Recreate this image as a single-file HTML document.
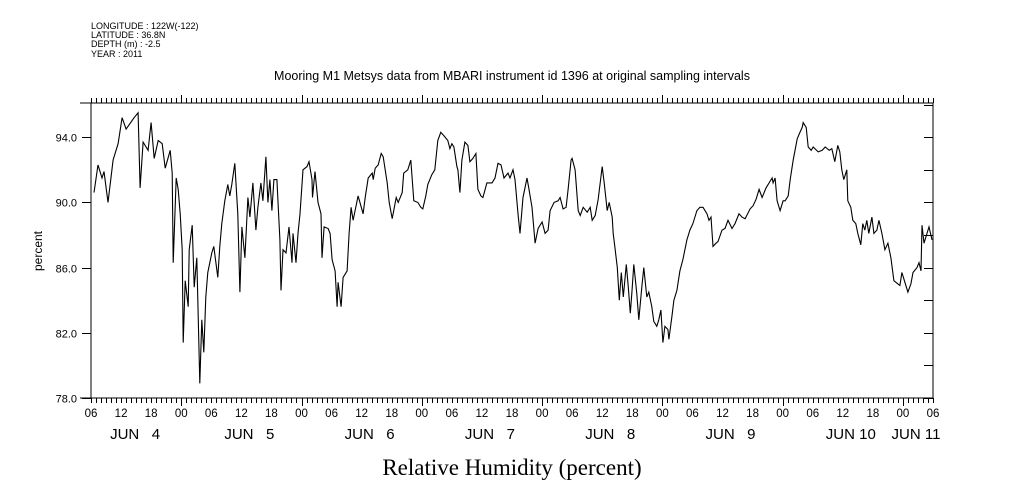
<!DOCTYPE html>
<html><head><meta charset="utf-8"><style>
body{margin:0;background:#fff;}
svg{display:block;font-family:"Liberation Sans",sans-serif;}
text{white-space:pre;}
</style></head><body>
<svg id="chart" width="1009" height="504" viewBox="0 0 1009 504" xmlns="http://www.w3.org/2000/svg">
<g font-size="9" fill="#000">
<text x="91" y="29">LONGITUDE : 122W(-122)</text>
<text x="91" y="38">LATITUDE : 36.8N</text>
<text x="91" y="47">DEPTH (m) : -2.5</text>
<text x="91" y="57">YEAR : 2011</text>
</g>
<text x="512" y="80" font-size="12.5" text-anchor="middle">Mooring M1 Metsys data from MBARI instrument id 1396 at original sampling intervals</text>
<text transform="translate(42,251) rotate(-90)" font-size="12" text-anchor="middle">percent</text>
<text x="512" y="475" font-size="23" text-anchor="middle" font-family="Liberation Serif, serif">Relative Humidity (percent)</text>
<g id="axes"></g>
<path id="series" fill="none" stroke="#000" stroke-width="1.1"/>
</svg>
<script>
const hours=[0.6,1.4,2.2,2.6,3.4,4.4,5.4,6.2,7.0,8.6,9.4,9.8,10.4,11.4,12.0,12.6,13.4,14.2,14.8,15.8,16.2,16.4,17.0,17.4,17.8,18.2,18.4,18.8,19.4,19.6,20.2,20.6,21.1,21.7,22.1,22.5,22.9,23.3,24.1,24.5,25.3,25.7,26.1,26.7,27.3,27.7,28.1,28.7,29.3,29.7,30.1,30.7,31.3,31.7,32.3,32.9,33.3,33.9,34.3,34.9,35.3,35.7,36.1,36.5,37.1,37.7,37.9,38.3,38.9,39.5,40.1,40.3,40.9,41.3,41.7,42.3,43.1,43.5,44.1,44.2,44.7,45.3,45.9,46.1,46.5,47.3,47.7,48.1,48.7,49.1,49.3,49.9,50.3,51.1,51.5,51.9,52.3,52.9,53.3,54.3,54.7,55.3,56.1,56.3,56.7,57.3,57.9,58.3,59.1,59.5,60.1,60.9,61.3,62.1,62.4,63.2,63.8,64.4,65.2,65.8,66.2,66.8,67.2,68.0,68.6,69.2,69.8,70.4,71.2,71.6,72.0,72.4,73.0,73.2,73.6,74.0,74.6,75.2,75.6,76.2,76.8,77.2,77.8,78.2,79.0,80.0,80.6,81.2,81.8,82.4,83.2,83.6,84.2,84.6,85.2,85.6,86.2,87.0,87.4,88.0,88.6,89.2,90.0,90.6,91.2,91.6,92.4,93.2,93.6,94.2,94.8,95.2,95.8,96.0,96.6,97.2,97.6,98.2,99.0,99.6,100.0,100.6,101.2,102.0,102.4,103.0,103.4,104.0,104.2,104.6,105.0,105.4,105.8,106.2,106.8,107.2,107.6,107.9,108.3,108.9,109.3,109.9,110.3,110.9,111.3,111.9,112.3,112.9,113.3,113.7,114.1,114.5,115.1,115.3,115.9,116.3,116.9,117.5,118.1,118.9,119.5,120.1,120.9,121.5,122.1,122.9,123.3,123.7,124.1,124.7,125.1,125.9,126.5,127.1,127.9,128.5,129.3,129.9,130.5,131.5,132.1,132.7,133.3,133.9,134.7,135.3,135.9,136.1,136.5,136.9,137.5,138.1,138.5,139.1,139.5,140.1,140.9,141.3,141.9,142.1,142.7,143.1,143.7,144.1,145.1,145.9,146.5,147.3,147.8,148.4,149.0,149.4,149.8,150.2,150.8,151.0,151.6,152.0,152.6,153.0,153.6,154.0,154.4,154.8,155.2,155.8,156.2,156.8,157.2,157.8,158.4,159.0,159.6,160.2,161.0,161.4,161.8,162.4,163.0,163.6,164.0,164.8,165.2,165.6,165.8,166.2,166.8,167.2,167.8];
const humidity=[90.6,92.3,91.5,91.9,90.0,92.6,93.6,95.2,94.5,95.2,95.5,90.9,93.7,93.2,94.9,92.7,93.8,93.6,92.1,93.2,91.8,86.3,91.5,90.8,89.3,87.1,81.4,85.2,83.6,87.1,88.6,84.8,86.6,78.9,82.8,80.8,84.2,85.7,86.9,87.3,85.4,87.3,88.7,90.1,91.1,90.4,91.1,92.4,89.3,84.5,88.5,86.6,90.3,89.1,91.2,88.3,89.7,91.2,90.1,92.8,90.0,91.4,89.5,91.4,91.4,87.7,84.6,87.1,86.9,88.5,86.3,88.1,86.3,88.1,89.3,92.0,92.2,92.5,91.4,90.3,91.9,90.0,89.3,86.6,88.5,88.4,88.1,86.5,85.8,83.6,85.1,83.6,85.4,85.8,88.1,89.7,88.9,89.8,90.4,89.3,90.3,91.5,91.8,91.4,92.1,92.3,93.0,92.8,91.2,90.0,89.0,90.3,90.0,90.6,91.8,92.0,92.6,90.1,90.0,89.7,89.6,90.4,91.1,91.7,92.0,93.8,94.3,94.1,93.8,93.3,93.6,93.4,92.2,92.0,90.6,92.6,93.7,93.5,92.5,92.7,93.0,90.8,90.4,90.3,91.2,91.2,91.5,92.4,92.3,91.5,91.8,91.5,92.0,91.4,89.3,88.1,90.3,91.5,90.8,89.7,87.5,88.4,88.8,88.1,88.3,89.5,90.0,90.1,90.3,89.6,89.7,90.8,92.6,92.7,92.0,89.5,89.2,89.7,89.4,89.7,88.9,89.2,90.2,92.2,91.2,89.5,90.0,89.1,88.1,87.1,86.0,84.0,85.7,84.2,86.2,84.8,83.2,84.4,86.2,84.4,82.8,84.8,86.0,84.2,84.5,83.6,82.7,82.4,82.8,83.4,81.4,82.4,82.2,81.6,83.0,84.0,84.6,85.8,86.5,87.7,88.3,88.7,89.5,89.7,89.7,89.3,88.9,89.1,87.3,87.5,87.6,88.3,88.4,88.9,88.4,88.7,89.3,89.1,89.0,89.6,89.8,90.2,90.8,90.3,90.9,91.2,91.5,91.2,91.5,90.1,89.5,90.1,90.1,90.4,91.4,92.6,93.9,94.2,94.6,94.9,94.6,93.4,93.2,93.4,93.1,93.2,93.4,93.2,93.3,92.5,93.5,93.1,92.0,91.4,92.0,90.1,89.7,88.9,88.7,88.1,87.4,88.7,88.3,88.9,88.1,89.1,88.1,88.3,88.9,88.1,87.1,87.5,86.6,85.2,85.0,84.9,85.7,85.1,84.5,85.0,85.7,86.0,86.3,85.8,88.6,87.5,88.1,88.5,87.7,86.6];
const yTicks=[78,82,86,90,94];
const yTickLabels=["78.0","82.0","86.0","90.0","94.0"];
const xHourLabels=["06","12","18","00"];
const dayLabels=["JUN   4","JUN   5","JUN   6","JUN   7","JUN   8","JUN   9","JUN 10","JUN 11"];

const L=91,R=933,T=103,B=398,H0=0,H1=168,YMIN=78,YMAX=96.1;
function xs(h){return L+(h-H0)/(H1-H0)*(R-L);}
function ys(v){return B-(v-YMIN)/(YMAX-YMIN)*(B-T);}
const NS="http://www.w3.org/2000/svg";
const ax=document.getElementById('axes');
function ln(x1,y1,x2,y2,name){const e=document.createElementNS(NS,'line');e.setAttribute('x1',x1);e.setAttribute('y1',y1);e.setAttribute('x2',x2);e.setAttribute('y2',y2);e.setAttribute('stroke','#000');e.setAttribute('stroke-width','1');


ax.appendChild(e);return e;}
function tx(x,y,s,size,anchor,name){const e=document.createElementNS(NS,'text');e.setAttribute('x',x);e.setAttribute('y',y);e.setAttribute('font-size',size);e.setAttribute('text-anchor',anchor);e.textContent=s;


ax.appendChild(e);}
ln(L,T,L,B,'y-axis-left');ln(R,T,R,B,'y-axis-right');
ln(80,T,R,T,'x-axis-top');ln(80,B,R,B,'x-axis-bottom');
for(let h=H0;h<=H1;h++){const x=Math.round(xs(h))+0.5;const day=(h%24)===18;const len=day?8:5;
ln(x,T,x,T-len,'top-tick');ln(x,B,x,B+len,'bottom-tick');}
for(let h=H0;h<=H1;h+=6){tx(xs(h),417,xHourLabels[(h/6)%4],11.5,'middle','x-tick-label');}
dayLabels.forEach((d,i)=>{const x=i<7?xs(i*24+6)+(i==0?14:8):xs(H1)-17;tx(x,439,d,15,'middle','day-label');});
yTicks.forEach((v,i)=>{const y=Math.round(ys(v))+0.5;ln(L-9,y,L,y,'y-tick');tx(L-14,y+4,yTickLabels[i],11,'end','y-tick-label');});
for(let v=YMIN;v<=96;v+=2){const y=Math.round(ys(v))+0.5;ln(R-9,y,R,y,'right-tick');}
let d='';hours.forEach((h,i)=>{d+=(i?'L':'M')+xs(h).toFixed(1)+' '+ys(humidity[i]).toFixed(1);});
document.getElementById('series').setAttribute('d',d);
</script>
</body></html>
